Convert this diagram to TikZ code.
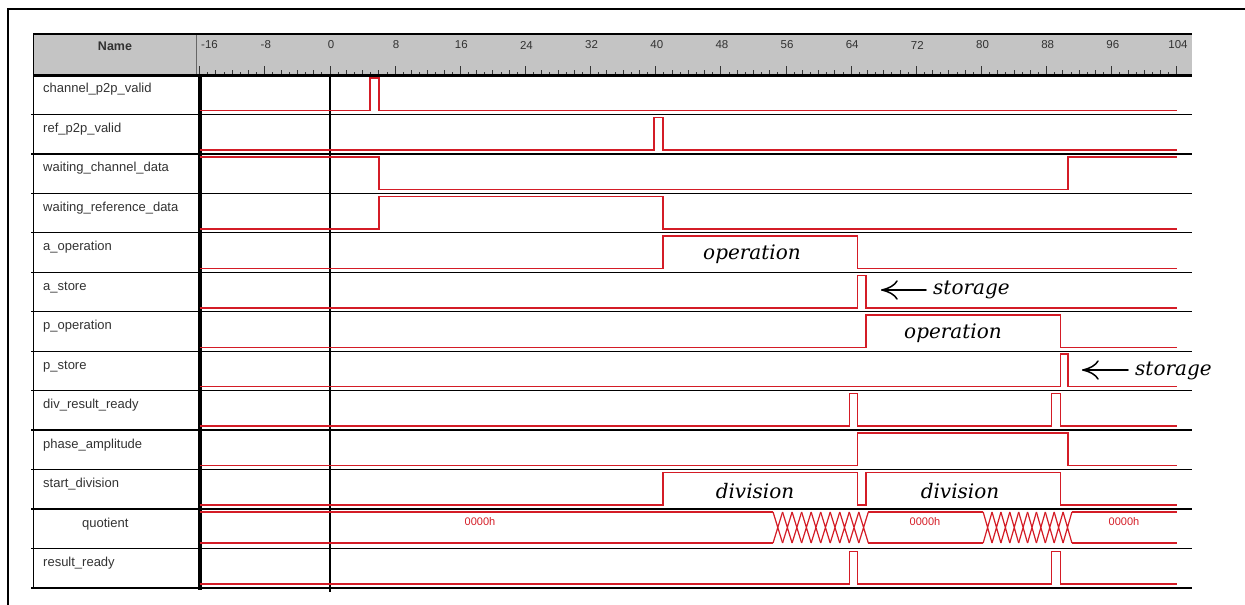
\documentclass[tikz,border=0pt]{standalone}
\usepackage{fontspec}
\setmainfont{Liberation Sans}
\newfontfamily\annfont{DejaVu Serif}
\definecolor{sig}{RGB}{212,28,38}
\definecolor{hdr}{RGB}{196,196,196}
\definecolor{txt}{RGB}{50,50,50}
\def\yH#1{78+39.46*#1}
\def\yL#1{110.5+39.46*#1}
\def\yT#1{75+39.46*#1}
\begin{document}
\begin{tikzpicture}[x=1bp,y=-1bp,
  sigline/.style={draw=sig,line width=1.5bp},
  hatch/.style={draw=sig,line width=1.2bp},
  rowline/.style={draw=black,line width=1.3bp},
  namelbl/.style={anchor=base west,inner sep=0,text=txt,font=\fontsize{13bp}{15bp}\selectfont},
  rulerlbl/.style={inner sep=0,text=txt,font=\fontsize{11.5bp}{13bp}\selectfont},
  annot/.style={inner sep=0,anchor=base,font=\annfont\itshape\fontsize{20bp}{24bp}\selectfont},
  hexlbl/.style={inner sep=0,text=sig,font=\fontsize{11bp}{13bp}\selectfont},
  pointer/.style={line width=1.5bp,line cap=round}]
\useasboundingbox (0,0) rectangle (1245,605);

% outer frame
\draw[line width=1.6bp] (8,605) -- (8,9) -- (1245,9);

% header
\fill[hdr] (33,34) rectangle (1192,75);
\draw[line width=0.8bp,black!60] (196,34) -- (196,75);

% ticks
\foreach \t in {-16,...,104} {
  \pgfmathtruncatemacro\mA{mod(\t+16,8)}
  \pgfmathtruncatemacro\mB{mod(\t+16,2)}
  \ifnum\mA=0 \def\h{8}\else\ifnum\mB=0 \def\h{4}\else\def\h{2}\fi\fi
  \draw[line width=1bp,black!80] ({330+8.144*\t},74) -- ++(0,-\h);
}
\node[rulerlbl,anchor=west] (rlm16) at (201,45) {-16};
\node[rulerlbl] (rlm8) at ({330-8.144*8+1},45) {-8};
\foreach \t [count=\i] in {0,8,...,104}
  \node[rulerlbl] (rl\i) at ({330+8.144*\t+1},45) {\t};
\node[font=\bfseries\fontsize{12.5bp}{14bp}\selectfont,text=txt,inner sep=0] (namehdr) at (115,46) {Name};

% grid lines
\foreach \r in {1,...,13} \draw[rowline] (31,{\yT\r}) -- (1192,{\yT\r});
\draw[line width=2.2bp] (33,34) -- (1192,34);
\draw[line width=2.6bp] (33,75.5) -- (1192,75.5);
\draw[line width=1.4bp] (33.5,34) -- (33.5,588);
\draw[line width=4bp] (199.5,75) -- (199.5,590);
\draw[line width=1.2bp] (330,75) -- (330,592);

% signal names
\node[namelbl] (n0) at (43,{\yT{0}+18}) {channel\_p2p\_valid};
\node[namelbl] (n1) at (43,{\yT{1}+18}) {ref\_p2p\_valid};
\node[namelbl] (n2) at (43,{\yT{2}+18}) {waiting\_channel\_data};
\node[namelbl] (n3) at (43,{\yT{3}+18}) {waiting\_reference\_data};
\node[namelbl] (n4) at (43,{\yT{4}+18}) {a\_operation};
\node[namelbl] (n5) at (43,{\yT{5}+18}) {a\_store};
\node[namelbl] (n6) at (43,{\yT{6}+18}) {p\_operation};
\node[namelbl] (n7) at (43,{\yT{7}+18}) {p\_store};
\node[namelbl] (n8) at (43,{\yT{8}+18}) {div\_result\_ready};
\node[namelbl] (n9) at (43,{\yT{9}+18}) {phase\_amplitude};
\node[namelbl] (n10) at (43,{\yT{10}+18}) {start\_division};
\node[namelbl] (n11) at (82,{\yT{11}+18}) {quotient};
\node[namelbl] (n12) at (43,{\yT{12}+18}) {result\_ready};

% waveforms
\begin{scope}[x=8.144bp,y=-1bp,xshift=330bp]
\draw[sigline] (-16,{\yL{0}}) -| (4.9,{\yH{0}}) -| (6,{\yL{0}}) -- (104,{\yL{0}});
\draw[sigline] (-16,{\yL{1}}) -| (39.8,{\yH{1}}) -| (40.9,{\yL{1}}) -- (104,{\yL{1}});
\draw[sigline] (-16,{\yH{2}}) -| (6,{\yL{2}}) -| (90.6,{\yH{2}}) -- (104,{\yH{2}});
\draw[sigline] (-16,{\yL{3}}) -| (6,{\yH{3}}) -| (40.9,{\yL{3}}) -- (104,{\yL{3}});
\draw[sigline] (-16,{\yL{4}}) -| (40.9,{\yH{4}}) -| (64.8,{\yL{4}}) -- (104,{\yL{4}});
\draw[sigline] (-16,{\yL{5}}) -| (64.8,{\yH{5}}) -| (65.8,{\yL{5}}) -- (104,{\yL{5}});
\draw[sigline] (-16,{\yL{6}}) -| (65.8,{\yH{6}}) -| (89.7,{\yL{6}}) -- (104,{\yL{6}});
\draw[sigline] (-16,{\yL{7}}) -| (89.7,{\yH{7}}) -| (90.6,{\yL{7}}) -- (104,{\yL{7}});
\draw[sigline] (-16,{\yL{8}}) -| (63.8,{\yH{8}}) -| (64.8,{\yL{8}}) -| (88.6,{\yH{8}}) -| (89.7,{\yL{8}}) -- (104,{\yL{8}});
\draw[sigline] (-16,{\yL{9}}) -| (64.8,{\yH{9}}) -| (90.6,{\yL{9}}) -- (104,{\yL{9}});
\draw[sigline] (-16,{\yL{10}}) -| (40.9,{\yH{10}}) -| (64.8,{\yL{10}}) -| (65.8,{\yH{10}}) -| (89.7,{\yL{10}}) -- (104,{\yL{10}});
\draw[sigline] (-16,{\yL{12}}) -| (63.8,{\yH{12}}) -| (64.8,{\yL{12}}) -| (88.6,{\yH{12}}) -| (89.7,{\yL{12}}) -- (104,{\yL{12}});
% quotient bus
\draw[sigline] (-16,512) -- (54.4,512) (-16,543) -- (54.4,543);
\foreach \k in {0,...,9}
  \draw[hatch] ({54.4+1.17*\k},512) -- ({54.4+1.17*(\k+1)},543)
               ({54.4+1.17*\k},543) -- ({54.4+1.17*(\k+1)},512);
\draw[sigline] (66.1,512) -- (80.2,512) (66.1,543) -- (80.2,543);
\foreach \k in {0,...,9}
  \draw[hatch] ({80.2+1.09*\k},512) -- ({80.2+1.09*(\k+1)},543)
               ({80.2+1.09*\k},543) -- ({80.2+1.09*(\k+1)},512);
\draw[sigline] (91.1,512) -- (104,512) (91.1,543) -- (104,543);
\end{scope}

% bus values
\node[hexlbl] (q1) at (480,522) {0000h};
\node[hexlbl] (q2) at (925,522) {0000h};
\node[hexlbl] (q3) at (1124,522) {0000h};

% annotations
\node[annot] (op1) at (752,260) {operation};
\node[annot] (op2) at (953,339) {operation};
\node[annot,anchor=base west] (st1) at (933,295) {storage};
\node[annot,anchor=base west] (st2) at (1135,375) {storage};
\node[annot] (dv1) at (755,498) {division};
\node[annot] (dv2) at (960,498) {division};
\coordinate (a1s) at (926,290);
\coordinate (a1e) at (882,290);
\draw[pointer] (a1s) -- (a1e);
\draw[pointer] (a1e) .. controls +(7,-1.5) and +(-2,4) .. +(15,-9);
\draw[pointer] (a1e) .. controls +(7,1.5) and +(-2,-4) .. +(15,9);
\coordinate (a2s) at (1128,370);
\coordinate (a2e) at (1083,370);
\draw[pointer] (a2s) -- (a2e);
\draw[pointer] (a2e) .. controls +(7,-1.5) and +(-2,4) .. +(15,-9);
\draw[pointer] (a2e) .. controls +(7,1.5) and +(-2,-4) .. +(15,9);
\end{tikzpicture}
\end{document}
